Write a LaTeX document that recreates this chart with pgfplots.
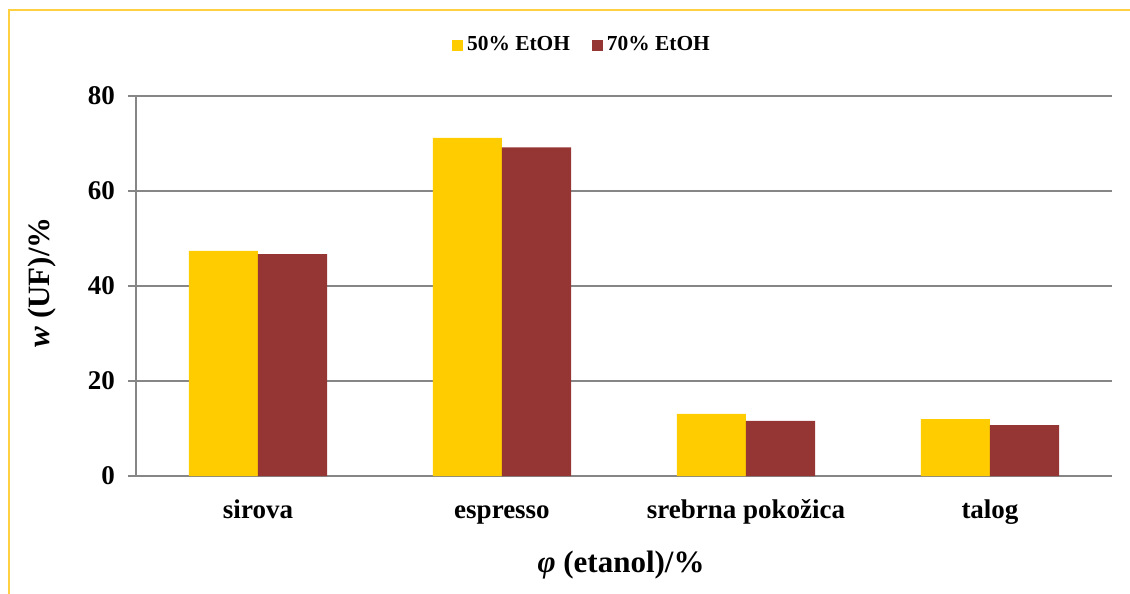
\documentclass[border=0pt]{standalone}
\usepackage{fontspec}
\setmainfont{Liberation Serif}
\usepackage{pgfplots}
\pgfplotsset{compat=1.18}
\definecolor{barY}{RGB}{255,204,0}
\definecolor{barR}{RGB}{150,54,52}
\definecolor{gridG}{RGB}{134,134,134}
\definecolor{frameY}{RGB}{255,208,64}
\begin{document}
\begin{tikzpicture}
\useasboundingbox (0,0) rectangle (565pt,-297pt);
\draw[frameY, line width=1pt] (4.5pt,-297pt) -- (4.5pt,-5pt) -- (565pt,-5pt);
\begin{axis}[
  at={(68pt,-238pt)}, anchor=south west,
  scale only axis, width=488pt, height=190pt,
  ybar=0pt, bar width=34.5pt,
  xmin=-0.5, xmax=3.5, ymin=0, ymax=80,
  xtick={0,1,2,3}, xticklabels={sirova, espresso, srebrna pokožica, talog},
  ytick={0,20,40,60,80},
  axis lines*=left,
  axis line style={gridG, line width=1pt},
  ymajorgrids, grid style={gridG, line width=0.75pt},
  tick align=outside, major tick length=4pt,
  y tick style={gridG, line width=0.75pt},
  x tick style={draw=none},
  /pgf/number format/assume math mode=true,
  tick label style={font=\fontsize{13.5}{16}\selectfont\bfseries},
  xticklabel style={yshift=-6.5pt, text height=0.7em, text depth=0.25em},
  yticklabel style={xshift=-3pt},
  xlabel={\textbf{\textit{φ}} (etanol)/\%},
  ylabel={\textbf{\textit{w}} (UF)/\%},
  xlabel style={font=\fontsize{15.5}{18}\selectfont\bfseries, at={(axis description cs:0.497,-0.234)}, anchor=center},
  ylabel style={font=\fontsize{15.5}{18}\selectfont\bfseries, at={(axis description cs:-0.0963,0.51)}, anchor=center},
  legend columns=2,
  legend style={at={(axis description cs:0.458,1.134)}, anchor=center, draw=none,
    font=\fontsize{10.7}{13}\selectfont\bfseries,
    /tikz/every even column/.append style={column sep=9pt}},
  legend image code/.code={\fill[#1] (0pt,-2.75pt) rectangle (5.5pt,2.75pt);},
]
\addplot[fill=barY, draw=none] coordinates {(0,47.4) (1,71.2) (2,13.1) (3,12.0)};
\addplot[fill=barR, draw=none] coordinates {(0,46.7) (1,69.2) (2,11.6) (3,10.7)};
\legend{50\% EtOH, 70\% EtOH}
\end{axis}
\end{tikzpicture}
\end{document}
